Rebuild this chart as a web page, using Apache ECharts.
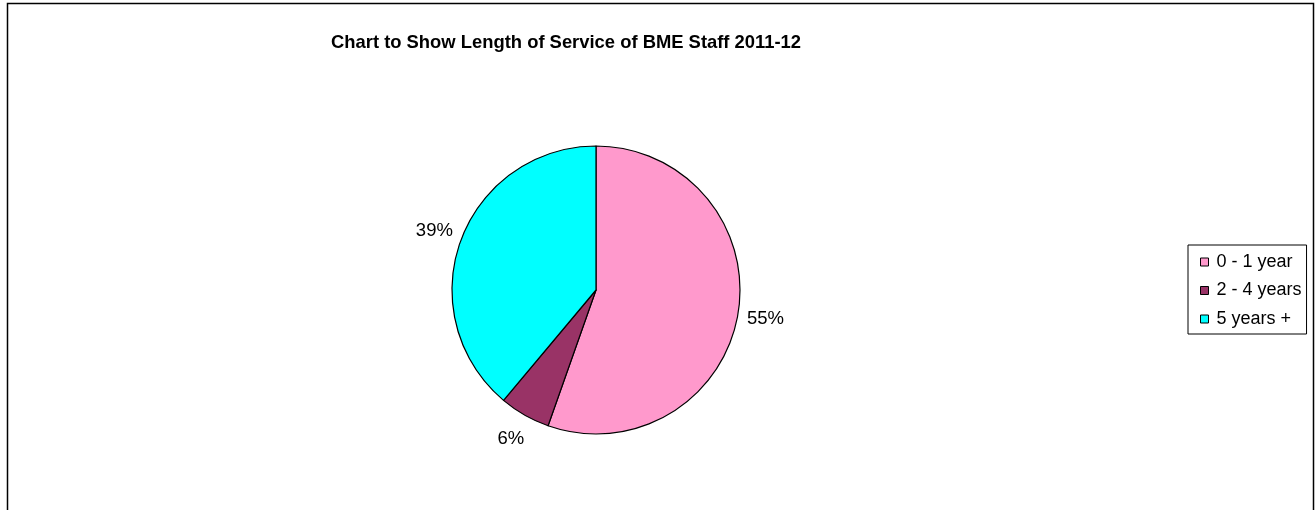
<!DOCTYPE html>
<html><head><meta charset="utf-8">
<script src="https://cdn.jsdelivr.net/npm/echarts@6/dist/echarts.min.js"></script>
<style>html,body{margin:0;padding:0;background:#fff}#c{width:1315px;height:510px}</style>
</head><body><div id="c"></div>
<script>
const categories = ['0 - 1 year', '2 - 4 years', '5 years +'];
const values = [55.4, 5.7, 38.9];
const colors = ['#FF99CC', '#993366', '#00FFFF'];
const titleText = 'Chart to Show Length of Service of BME Staff 2011-12';
const FONT = "'Liberation Sans', Arial, sans-serif";

const chart = echarts.init(document.getElementById('c'), null, {renderer: 'canvas'});
const pieData = categories.map((n, i) => ({name: n, value: values[i], itemStyle: {color: colors[i]}}));
const labelData = categories.map((n, i) => ({name: n, value: values[i]}));

chart.setOption({
  animation: false,
  backgroundColor: '#fff',
  title: {
    text: titleText, left: 326, top: 29,
    textStyle: {fontFamily: FONT, fontSize: 18.4, fontWeight: 'bold', color: '#000'}
  },
  legend: {
    orient: 'vertical', left: 1188, top: 245, data: categories,
    icon: 'rect', itemWidth: 8, itemHeight: 8, itemGap: 10.5,
    padding: [8, 5, 6, 12], borderColor: '#000', borderWidth: 1,
    textStyle: {fontFamily: FONT, fontSize: 18, color: '#000', padding: [0, 0, 0, 3]},
    itemStyle: {borderColor: '#000', borderWidth: 1}
  },
  graphic: [{
    type: 'rect', silent: true,
    shape: {x: 7.5, y: 3.5, width: 1306, height: 560},
    style: {fill: null, stroke: '#000', lineWidth: 1.5}
  }],
  series: [
    {
      type: 'pie', center: [596, 290], radius: 144, startAngle: 90, clockwise: true,
      silent: true, data: pieData,
      itemStyle: {borderColor: '#000', borderWidth: 1.2},
      label: {show: false}, labelLine: {show: false}
    },
    {
      type: 'pie', center: [596, 290], radius: [164, 174], startAngle: 90, clockwise: true,
      silent: true, data: labelData,
      itemStyle: {color: 'rgba(0,0,0,0)', borderWidth: 0},
      label: {
        show: true, position: 'inside',
        formatter: p => Math.round(p.percent) + '%',
        fontFamily: FONT, fontSize: 18.5, color: '#000'
      },
      labelLine: {show: false}
    }
  ]
});
</script></body></html>
